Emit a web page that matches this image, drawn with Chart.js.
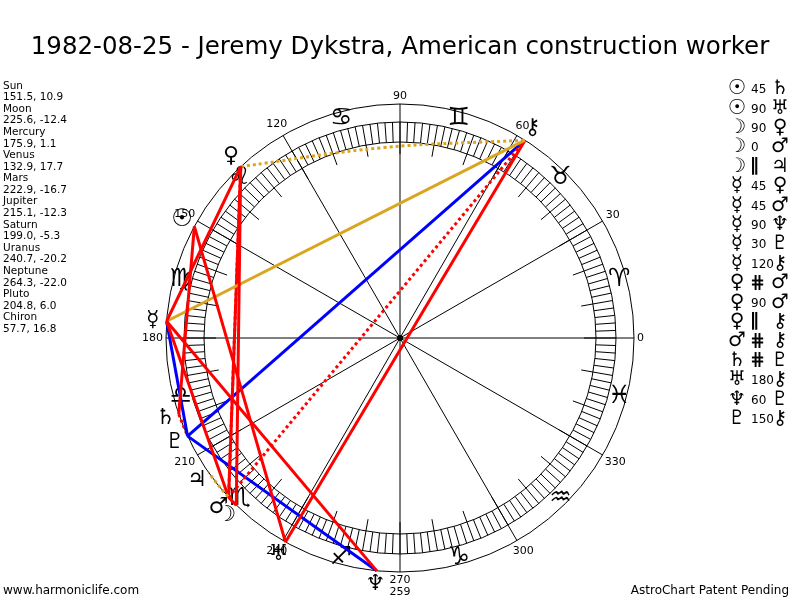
<!DOCTYPE html>
<html><head><meta charset="utf-8">
<script src="https://cdn.jsdelivr.net/npm/chart.js@4.4.1/dist/chart.umd.min.js"></script>
<style>html,body{margin:0;padding:0;background:#fff}canvas{display:block}</style>
</head><body>
<canvas id="c" width="800" height="600"></canvas>
<script>
const chartTitle = "1982-08-25 - Jeremy Dykstra, American construction worker";
const planetNames = ["Sun","Moon","Mercury","Venus","Mars","Jupiter","Saturn","Uranus","Neptune","Pluto","Chiron"];
const planetLongitudes = [151.5,225.6,175.9,132.9,222.9,215.1,199.0,240.7,264.3,204.8,57.7];
const planetLatitudes = [10.9,-12.4,1.1,17.7,-16.7,-12.3,-5.3,-20.2,-22.0,6.0,16.8];
const planetGlyphs = ["☉","☽","☿","♀","♂","♃","♄","♅","♆","♇","⚷"];
const aspectFrom = ["Sun","Sun","Moon","Moon","Moon","Mercury","Mercury","Mercury","Mercury","Mercury","Venus","Venus","Venus","Mars","Saturn","Uranus","Neptune","Pluto"];
const aspectTo = ["Saturn","Uranus","Venus","Mars","Jupiter","Venus","Mars","Neptune","Pluto","Chiron","Mars","Mars","Chiron","Chiron","Pluto","Chiron","Pluto","Chiron"];
const aspectKind = ["45","90","90","0","||","45","45","90","30","120","#","90","||","#","#","180","60","150"];
const degreeLabels = [0,30,60,90,120,150,180,210,240,270,300,330];
const signGlyphs = ["♈","♉","♊","♋","♌","♍","♎","♏","♐","♑","♒","♓"];
const signMidpoints = [15,45,75,105,135,165,195,225,255,285,315,345];
const extraLabel = "259";
const footerLeft = "www.harmoniclife.com";
const footerRight = "AstroChart Patent Pending";

const R_OUT = 234, R_RING_OUT = 216, R_RING_IN = 196, R_LONG = 184;
const FONT = "'DejaVu Sans', Verdana, sans-serif";

function polar(deg, r) {
  const a = deg * Math.PI / 180;
  return {x: r * Math.cos(a), y: r * Math.sin(a)};
}
function kindStyle(k) {
  if (k === "||") return {color: "#DAA520", dash: [3, 3]};
  if (k === "#") return {color: "#FF0000", dash: [3, 3]};
  if (k === "120") return {color: "#DAA520", dash: []};
  if (k === "30" || k === "60" || k === "150") return {color: "#0000FF", dash: []};
  return {color: "#FF0000", dash: []};
}

const datasets = aspectKind.map((k, i) => {
  const a = planetLongitudes[planetNames.indexOf(aspectFrom[i])];
  const b = planetLongitudes[planetNames.indexOf(aspectTo[i])];
  const p1 = polar(a, R_OUT), p2 = polar(b, R_OUT);
  const pts = [p1];
  let tension = 0;
  if (k === "||") {
    const mx = (p1.x + p2.x) / 2, my = (p1.y + p2.y) / 2;
    const len = Math.hypot(p2.x - p1.x, p2.y - p1.y);
    const ml = Math.hypot(mx, my) || 1;
    const bulge = len * 0.02;
    pts.push({x: mx + mx / ml * bulge, y: my + my / ml * bulge});
    tension = 0.4;
  }
  pts.push(p2);
  const s = kindStyle(k);
  return {
    label: aspectFrom[i] + " " + k + " " + aspectTo[i],
    data: pts, showLine: true, borderColor: s.color, backgroundColor: s.color,
    borderWidth: 3, borderDash: s.dash, pointRadius: 0, tension: tension, fill: false
  };
});

const wheelPlugin = {
  id: 'wheel',
  beforeDatasetsDraw(chart) {
    const ctx = chart.ctx, xs = chart.scales.x, ys = chart.scales.y;
    const P = (deg, r) => { const p = polar(deg, r); return [xs.getPixelForValue(p.x), ys.getPixelForValue(p.y)]; };
    const cx = xs.getPixelForValue(0), cy = ys.getPixelForValue(0);
    const rp = r => xs.getPixelForValue(r) - cx;
    ctx.save();
    ctx.strokeStyle = "#000"; ctx.lineWidth = 1;
    [R_OUT, R_RING_OUT, R_RING_IN].forEach(r => { ctx.beginPath(); ctx.arc(cx, cy, rp(r), 0, Math.PI * 2); ctx.stroke(); });
    for (let d = 0; d < 360; d += 2) {
      const r0 = d % 10 === 0 ? R_LONG : R_RING_IN;
      const [x0, y0] = P(d, r0), [x1, y1] = P(d, R_RING_OUT);
      ctx.beginPath(); ctx.moveTo(x0, y0); ctx.lineTo(x1, y1); ctx.stroke();
    }
    degreeLabels.forEach(d => {
      const [x1, y1] = P(d, R_OUT);
      ctx.beginPath(); ctx.moveTo(cx, cy); ctx.lineTo(x1, y1); ctx.stroke();
    });
    ctx.fillStyle = "#000";
    ctx.font = "11px " + FONT; ctx.textAlign = "center"; ctx.textBaseline = "middle";
    degreeLabels.forEach(d => {
      const t = String(d), w = ctx.measureText(t).width;
      const a = d * Math.PI / 180;
      const r = 237 + w / 2 * Math.abs(Math.cos(a)) + 5 * Math.abs(Math.sin(a));
      const [x, y] = P(d, r);
      ctx.fillText(t, x, y);
    });
    { const [x, y] = P(270, 254); ctx.fillText(extraLabel, x, y); }
    ctx.font = "25px " + FONT;
    signMidpoints.forEach((d, i) => { const [x, y] = P(d, 227); ctx.fillText(signGlyphs[i], x, y); });
    ctx.restore();
  },
  afterDatasetsDraw(chart) {
    const ctx = chart.ctx, xs = chart.scales.x, ys = chart.scales.y;
    const P = (deg, r) => { const p = polar(deg, r); return [xs.getPixelForValue(p.x), ys.getPixelForValue(p.y)]; };
    const cx = xs.getPixelForValue(0), cy = ys.getPixelForValue(0);
    ctx.save();
    ctx.fillStyle = "#000";
    ctx.beginPath(); ctx.arc(cx, cy, 3, 0, Math.PI * 2); ctx.fill();
    ctx.textAlign = "center"; ctx.textBaseline = "middle";
    planetLongitudes.forEach((d, i) => {
      ctx.font = (i === 0 ? "bold 24px " : "22px ") + FONT;
      const [x, y] = P(d, 248); ctx.fillText(planetGlyphs[i], x, y);
    });
    // title
    ctx.font = "24.5px " + FONT;
    ctx.fillText(chartTitle, 400, 48);
    // left list
    ctx.textAlign = "left"; ctx.font = "10.5px " + FONT;
    planetNames.forEach((n, i) => {
      ctx.fillText(n, 3, 86 + i * 23.15);
      ctx.fillText(planetLongitudes[i].toFixed(1) + ", " + planetLatitudes[i].toFixed(1), 3, 97.6 + i * 23.15);
    });
    // right legend
    aspectKind.forEach((k, i) => {
      const y = 89 + i * 19.4;
      ctx.textAlign = "center";
      const g1 = planetNames.indexOf(aspectFrom[i]);
      ctx.font = (g1 === 0 ? "bold 21px " : "bold 20px ") + FONT;
      ctx.fillText(planetGlyphs[g1], 737, y);
      ctx.font = "bold 20px " + FONT;
      ctx.fillText(planetGlyphs[planetNames.indexOf(aspectTo[i])], 780, y);
      ctx.textAlign = "left";
      if (k === "||") { ctx.font = "bold 18px " + FONT; ctx.fillText("\u2225", 750, y); }
      else if (k === "#") { ctx.font = "bold 18px " + FONT; ctx.fillText("\u22D5", 750, y); }
      else { ctx.font = "12px " + FONT; ctx.fillText(k, 751, y + 1); }
    });
    // footer
    ctx.font = "12px " + FONT; ctx.textAlign = "left";
    ctx.fillText(footerLeft, 3, 591);
    ctx.textAlign = "right";
    ctx.fillText(footerRight, 789, 591);
    ctx.restore();
  }
};

new Chart(document.getElementById('c'), {
  type: 'scatter',
  data: {datasets},
  options: {
    responsive: false, animation: false, devicePixelRatio: 1,
    layout: {padding: 0},
    plugins: {legend: {display: false}, title: {display: false}, tooltip: {enabled: false}},
    scales: {
      x: {type: 'linear', min: -400, max: 400, display: false},
      y: {type: 'linear', min: -262, max: 338, display: false}
    }
  },
  plugins: [wheelPlugin]
});
</script>
</body></html>
